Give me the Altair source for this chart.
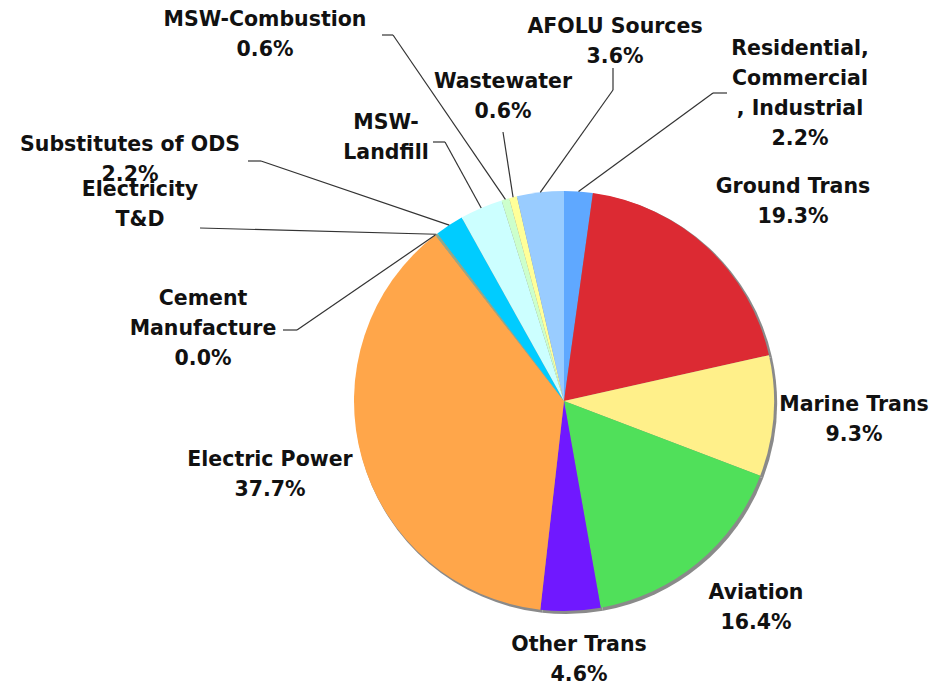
import altair as alt
import pandas as pd

# ---------------- data ----------------
categories = [
    "Residential, Commercial, Industrial", "Ground Trans", "Marine Trans", "Aviation",
    "Other Trans", "Electric Power", "Cement Manufacture", "Electricity T&D",
    "Substitutes of ODS", "MSW-Landfill", "MSW-Combustion", "Wastewater", "AFOLU Sources",
]
shares = [2.2, 19.3, 9.3, 16.4, 4.6, 37.7, 0.0, 0.2, 2.2, 3.3, 0.6, 0.6, 3.6]
colors = [
    "#5FA8FF", "#DC2A33", "#FFF08A", "#50E05A", "#7018FF", "#FFA64A", "#A0A070",
    "#93A889", "#00CCFF", "#CCFFFF", "#CCFFCC", "#FFFF99", "#99CCFF",
]
label_lines = [
    ["Residential,", "Commercial", ", Industrial"], ["Ground Trans"], ["Marine Trans"],
    ["Aviation"], ["Other Trans"], ["Electric Power"], ["Cement", "Manufacture"],
    ["Electricity", "T&D"], ["Substitutes of ODS"], ["MSW-", "Landfill"],
    ["MSW-Combustion"], ["Wastewater"], ["AFOLU Sources"],
]
show_share = [True, True, True, True, True, True, True, False, True, False, True, True, True]

# ---------------- layout (page pixels; y = first text line) ----------------
M = 8
CX, CY, R = 564, 401, 210
label_x = [800, 793, 854, 756, 579, 270, 203, 140, 130, 386, 265, 503, 615]
label_y = [49, 187, 405, 593, 645, 460, 299, 190, 145, 123, 20, 82, 27]
leader_pts = {
    "Residential, Commercial, Industrial": ((713, 93), (727, 93)),
    "Cement Manufacture": ((297, 330), (283, 330)),
    "Electricity T&D": ((200, 228), (200, 228)),
    "Substitutes of ODS": ((261, 161), (248, 161)),
    "MSW-Landfill": ((445, 142), (433, 142)),
    "MSW-Combustion": ((393, 35), (382, 35)),
    "Wastewater": ((503, 132), (503, 132)),
    "AFOLU Sources": ((613, 90), (613, 68)),
}

rows = []
for i, c in enumerate(categories):
    lines = list(label_lines[i])
    if show_share[i]:
        lines.append(f"{shares[i]:.1f}%")
    lp = leader_pts.get(c)
    rows.append({
        "cat": c, "share": shares[i], "idx": i,
        "label": "\n".join(lines),
        "lx": label_x[i] - M, "ly": label_y[i] - M,
        "has_leader": lp is not None,
        "e1x": lp[0][0] - M if lp else None, "e1y": lp[0][1] - M if lp else None,
        "e2x": lp[1][0] - M if lp else None, "e2y": lp[1][1] - M if lp else None,
    })
df = pd.DataFrame(rows)

base = alt.Chart(df)
theta = alt.Theta("share:Q", stack=True)
order = alt.Order("idx:Q", sort="ascending")

shadow = base.mark_arc(outerRadius=R + 1, color="#8a8a8a").encode(
    theta=theta, order=order,
    x=alt.value(CX - M + 2), y=alt.value(CY - M + 2),
)

pie = base.mark_arc(outerRadius=R).encode(
    theta=theta, order=order,
    color=alt.Color("cat:N", scale=alt.Scale(domain=categories, range=colors), legend=None),
    x=alt.value(CX - M), y=alt.value(CY - M),
)

lead_base = (
    base.transform_joinaggregate(total="sum(share)")
    .transform_window(cum="sum(share)", sort=[alt.SortField("idx")], frame=[None, 0])
    .transform_filter("datum.has_leader")
    .transform_calculate(mid="(datum.cum - datum.share / 2) / datum.total * 2 * PI")
    .transform_calculate(
        sx=f"{CX - M} + {R} * sin(datum.mid)",
        sy=f"{CY - M} - {R} * cos(datum.mid)",
    )
)

leader1 = lead_base.mark_rule(color="#333333", strokeWidth=1.2).encode(
    x=alt.X("sx:Q", scale=None), y=alt.Y("sy:Q", scale=None),
    x2="e1x:Q", y2="e1y:Q",
)
leader2 = lead_base.mark_rule(color="#333333", strokeWidth=1.2).encode(
    x=alt.X("e1x:Q", scale=None), y=alt.Y("e1y:Q", scale=None),
    x2="e2x:Q", y2="e2y:Q",
)

labels = base.mark_text(
    font="DejaVu Sans", fontSize=20.5, fontWeight="bold", color="#111111",
    align="center", baseline="middle", lineBreak="\n", lineHeight=30,
).encode(
    x=alt.X("lx:Q", scale=None), y=alt.Y("ly:Q", scale=None), text="label:N",
)

chart = alt.layer(shadow, pie, leader1, leader2, labels).properties(
    width=921, height=678, padding=0,
    autosize=alt.AutoSizeParams(type="none"),
    background="white",
).configure_view(stroke=None)

chart.save("out.html", embed_options={"renderer": "svg", "actions": False})
